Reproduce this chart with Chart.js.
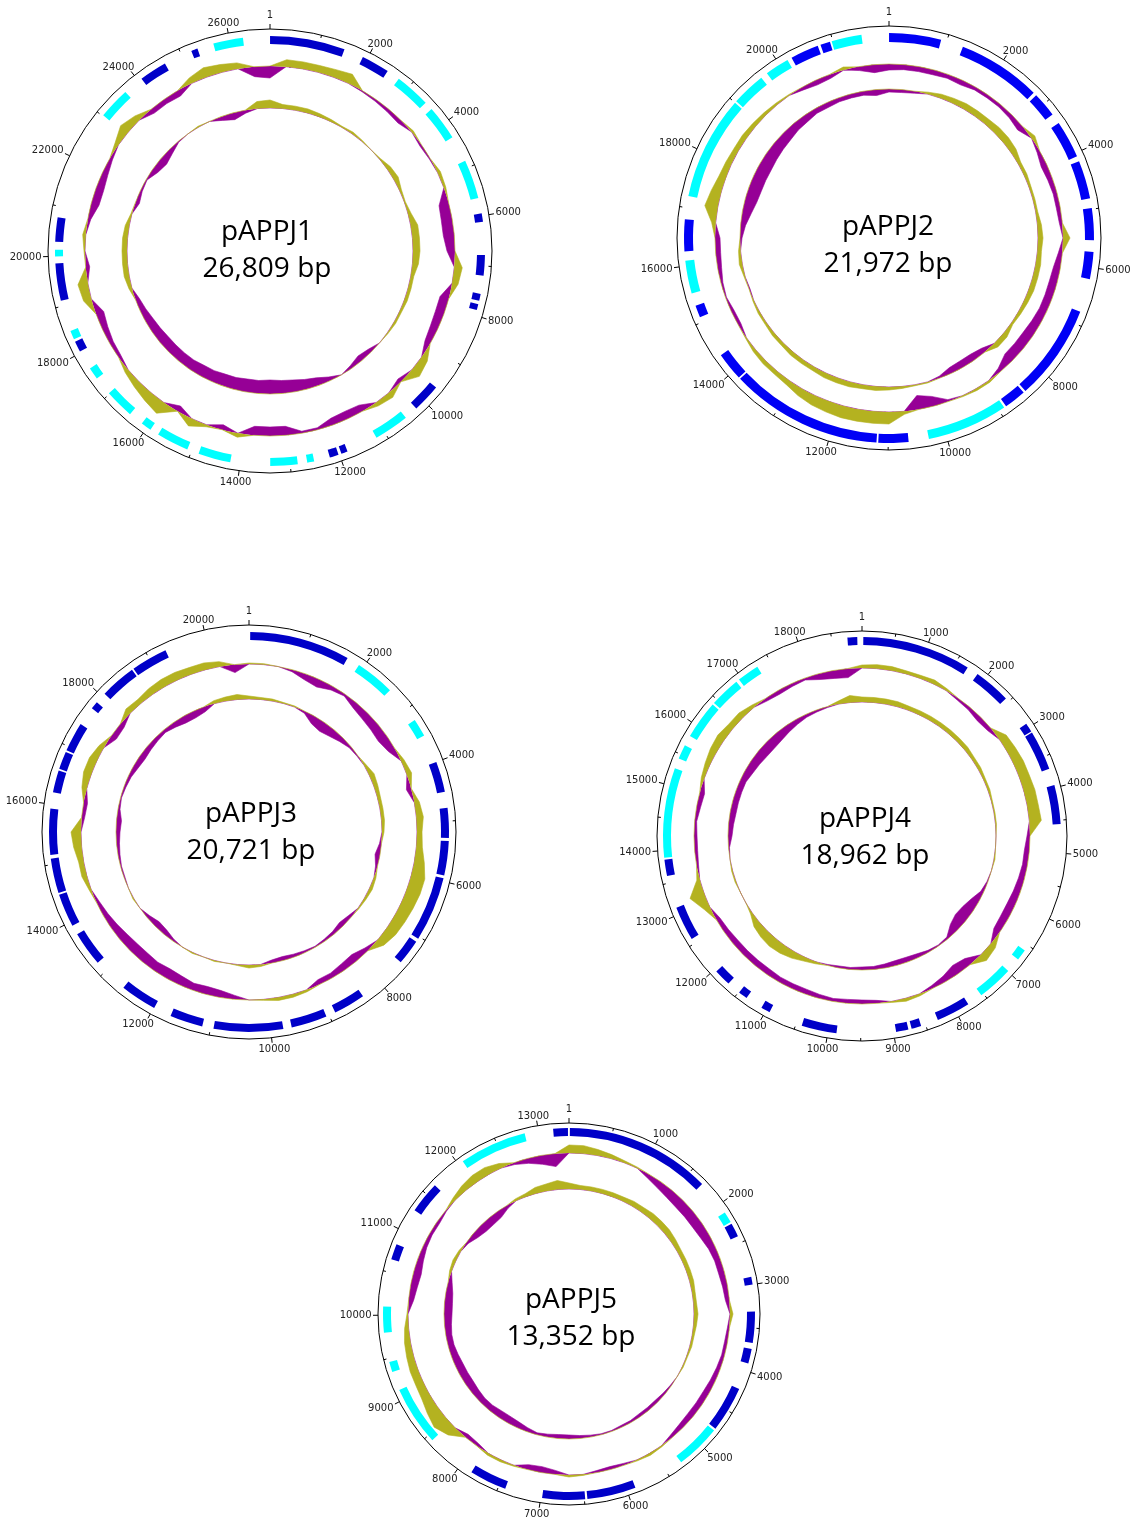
<!DOCTYPE html>
<html lang="en">
<head>
  <meta charset="UTF-8">
  <title>pAPPJ1-5 plasmid maps</title>
  <style>
    body { margin: 0; background: #fff; }
    #page { position: relative; width: 1134px; height: 1517px; overflow: hidden; background: #fff; }
    #page canvas { position: absolute; }
    .title {
      position: absolute;
      transform: translateX(-50%);
      font-family: 'Open Sans', sans-serif;
      font-size: 28px;
      line-height: 37px;
      color: #000;
      text-align: center;
      white-space: nowrap;
    }
  </style>
</head>
<body>
  <div id="page"></div>

  <script src="https://cdnjs.cloudflare.com/ajax/libs/Chart.js/4.4.1/chart.umd.js"></script>
  <script>
    // plasmid lengths (bp)
    const p1Length = 26809, p2Length = 21972, p3Length = 20721, p4Length = 18962, p5Length = 13352;

    // genes: [start, end, strand]  strand 1 = blue, -1 = cyan
    const p1Genes = [
      [1, 1510, 1], [1906, 2472, 1], [2741, 3455, -1], [3627, 4323, -1], [4855, 5637, -1],
      [5950, 6120, 1], [6784, 7195, 1], [7560, 7700, 1], [7770, 7890, 1], [9637, 10210, 1],
      [10486, 11193, -1], [11830, 11960, 1], [12020, 12200, 1], [12520, 12660, -1], [12850, 13400, -1],
      [14200, 14850, -1], [15090, 15740, -1], [15920, 16130, -1], [16430, 17020, -1], [17400, 17640, -1],
      [18030, 18250, 1], [18300, 18480, -1], [19110, 19860, 1], [20000, 20130, -1], [20290, 20780, 1],
      [23020, 23660, -1], [24075, 24630, 1], [25210, 25340, 1], [25670, 26270, -1]
    ];
    const p2Genes = [
      [1, 900, 1], [1290, 2740, 1], [2800, 3230, 1], [3410, 4060, 1], [4150, 4810, 1],
      [4980, 5530, 1], [5730, 6200, 1], [6780, 8440, 1], [8480, 8860, 1], [8900, 10300, -1],
      [10650, 11170, 1], [11200, 13830, 1], [13860, 14350, 1], [15090, 15300, 1], [15520, 16090, -1],
      [16250, 16800, 1], [17200, 19000, -1], [19030, 19620, -1], [19740, 20160, -1], [20240, 20730, 1],
      [20780, 20950, 1], [20980, 21500, -1]
    ];
    const p3Genes = [
      [20, 1700, 1], [1920, 2580, -1], [3220, 3520, -1], [4000, 4510, 1], [4780, 5280, 1],
      [5330, 5905, 1], [5950, 7035, 1], [7095, 7520, 1], [8360, 8890, 1], [9050, 9650, 1],
      [9790, 10950, 1], [11140, 11690, 1], [11990, 12600, 1], [13190, 13770, 1], [13930, 14490, 1],
      [14520, 15100, 1], [15160, 15930, 1], [16200, 16570, 1], [16600, 16900, 1], [16930, 17420, 1],
      [17740, 17870, 1], [18060, 18660, 1], [18690, 19300, 1]
    ];
    const p4Genes = [
      [20, 1690, 1], [1870, 2440, 1], [2930, 3070, 1], [3090, 3700, 1], [3960, 4560, 1],
      [6590, 6760, -1], [6990, 7540, -1], [7780, 8300, 1], [8570, 8720, 1], [8770, 8960, 1],
      [9870, 10410, 1], [10940, 11080, 1], [11350, 11490, 1], [11700, 11960, 1], [12580, 13110, 1],
      [13610, 13860, 1], [13890, 15270, -1], [15430, 15650, -1], [15810, 16400, -1], [16430, 16900, -1],
      [16950, 17290, -1], [18740, 18890, 1]
    ];
    const p5Genes = [
      [10, 1695, 1], [2110, 2240, -1], [2260, 2420, 1], [2910, 3000, 1], [3310, 3670, 1],
      [3740, 3910, 1], [4220, 4750, 1], [4775, 5300, -1], [5900, 6465, 1], [6490, 6985, 1],
      [7420, 7850, 1], [8430, 9120, -1], [9340, 9460, -1], [9800, 10100, -1], [10650, 10830, 1],
      [11270, 11640, 1], [12060, 12840, -1], [13170, 13340, 1]
    ];

    // labelled ticks (bp)
    const p1TickLabels = [1, 2000, 4000, 6000, 8000, 10000, 12000, 14000, 16000, 18000, 20000, 22000, 24000, 26000];
    const p2TickLabels = [1, 2000, 4000, 6000, 8000, 10000, 12000, 14000, 16000, 18000, 20000];
    const p3TickLabels = [1, 2000, 4000, 6000, 8000, 10000, 12000, 14000, 16000, 18000, 20000];
    const p4TickLabels = [1, 1000, 2000, 3000, 4000, 5000, 6000, 7000, 8000, 9000, 10000, 11000, 12000, 13000, 14000, 15000, 16000, 17000, 18000];
    const p5TickLabels = [1, 1000, 2000, 3000, 4000, 5000, 6000, 7000, 8000, 9000, 10000, 11000, 12000, 13000];

    // GC deviation, 72 windows (every 5 degrees, clockwise from position 1)
    const p1GcOuter = [-12,7,7,7,8,10,-1,-2,-3,-4,2,-2, -1,3,2,-10,-11,-11,-8,8,6,-9,-9,-8,
      -6,7,10,-4,6,4,-7,-8,-7,-2,-2,-9, -9,-9,4,-5,2,8,-6,13,10,7,4,-3,
      -4,-6,-8,8,10,-4,1,3,-3,-8,-8,-6, -3,4,10,6,-5,-5,-6,6,10,8,6,-10];
    const p1GcInner = [8,4,4,4,3,2,1,2,1,0,1,4, 5,2,1,3,7,7,7,6,3,3,3,2,
      2,1,0,-4,-6,-3,0,-4,-8,-10,-12,-13, -14,-13,-13,-12,-12,-11,-11,-10,-10,-10,-10,-9,
      -8,-6,-4,3,5,5,5,5,4,1,-4,-2, -1,-6,-8,-5,-1,0,1,0,-4,-7,-3,7];
    const p2GcOuter = [-6,-5,-5,-5,-4,-5,-3,-3,-3,-4,-6,4, -3,-6,-5,-4,-4,-3,7,-4,-7,-8,-8,-8,
      -9,-10,-10,-10,-4,2,2,1,-2,-10,-14,3, 12,12,12,12,11,10,8,5,4,4,3,1,
      -3,-3,-1,-2,-4,-5,-5,4,13,10,7,6, 5,5,4,3,2,1,-3,-5,-4,3,-4,-8];
    const p2GcInner = [-3,-3,-2,2,4,5,6,6,6,7,7,6, 3,3,2,2,2,4,5,4,5,5,5,4,
      3,2,5,5,-5,-7,-7,-6,-2,1,1,2, 3,4,4,5,5,5,4,4,4,3,3,2,
      2,1,-1,1,3,2,-2,-5,-9,-12,-13,-13, -13,-12,-11,-10,-8,-7,-5,-5,-4,-4,-4,-6];
    const p3GcOuter = [1,1,0,-2,-6,-8,-4,-2,-6,-8,-9,-10, -7,3,5,-5,5,7,5,6,10,14,14,13,
      12,11,8,-4,-8,-7,-5,-5,2,3,3,1, 0,-4,-7,-8,-7,-9,-10,-9,-10,-10,-9,-7,
      -5,-3,2,5,5,8,10,-3,-4,5,8,8, 5,-6,-5,6,5,7,8,8,7,7,5,-8];
    const p3GcInner = [3,2,2,1,1,-2,-8,-10,-8,-5,-2,-1, 2,5,4,3,3,3,2,-2,-5,-2,2,3,
      2,1,-3,-5,-3,-2,-1,-2,-3,-4,-3,2, 3,1,0,1,0,1,0,-2,-5,-6,-3,0,
      1,0,-1,-1,-2,-3,-4,-5,-2,-1,-2,-3, -5,-6,-5,-4,-3,-5,-7,-7,-5,3,4,5];
    const p4GcOuter = [3,4,4,3,3,4,2,-2,-3,-5,-4,8, 9,10,10,11,11,12,-3,-5,-5,-6,-7,-8,
      -8,-7,6,8,-8,-10,-6,-3,2,3,1,-3, -4,-4,-3,-4,-5,-5,-5,-6,-6,-6,-6,-5,
      -4,6,15,3,-2,-3,-3,-2,-4,-5,3,5, 7,8,6,6,3,-3,-4,-3,-2,-6,-8,-9];
    const p4GcInner = [5,5,5,5,4,4,4,4,4,4,4,3, 3,2,2,1,1,1,0,0,1,0,-1,-3,
      -8,-11,-12,-9,-2,-1,-2,-4,-5,-5,-4,-3, -3,-2,-2,-1,2,4,7,9,10,9,7,2,
      0,0,1,1,0,-1,-4,-5,-6,-6,-6,-6, -8,-9,-10,-10,-9,-7,-5,-3,-2,-1,3,7];
    const p5GcOuter = [8,8,6,4,2,1,-4,-7,-9,-10,-10,-10, -9,-7,-6,-6,-5,-4,3,-2,-3,-3,-4,-5,
      -6,-6,-6,-5,-3,1,2,1,-2,-3,-2,1, 2,-4,-6,-5,1,2,2,-3,-4,10,15,12,
      9,8,8,7,6,4,1,-5,-7,-8,-6,-4, -3,-3,-1,3,6,8,8,5,-2,-5,-9,-13];
    const p5GcInner = [6,4,4,4,4,4,5,5,6,6,6,5, 4,4,4,4,3,3,4,3,2,2,1,1,
      0,-1,-2,-3,-3,-3,-2,-2,-1,-1,-2,-3, -4,-4,-3,-2,-4,-6,-7,-7,-6,-6,-7,-8,
      -8,-8,-7,-6,-6,-7,-8,-8,-7,-4,2,3, 2,-2,-6,-8,-8,-7,-3,2,3,6,7,9];

    const CYAN = '#00ffff';
    const OLIVE = '#b4b220';
    const PURPLE = '#960096';

    // layout of each map on the page
    const maps = [
      { name: 'pAPPJ1', length: p1Length, genes: p1Genes, ticks: p1TickLabels, minor: 1000, outer: p1GcOuter, inner: p1GcInner,
        cx: 270, cy: 251, R: 222, ring: [207, 215], outerBase: 185, innerBase: 143, blue: '#0000c8', tx: 267, ty: 240 },
      { name: 'pAPPJ2', length: p2Length, genes: p2Genes, ticks: p2TickLabels, minor: 1000, outer: p2GcOuter, inner: p2GcInner,
        cx: 889, cy: 238, R: 212, ring: [196, 205], outerBase: 174, innerBase: 149, blue: '#0000f5', tx: 888, ty: 235 },
      { name: 'pAPPJ3', length: p3Length, genes: p3Genes, ticks: p3TickLabels, minor: 1000, outer: p3GcOuter, inner: p3GcInner,
        cx: 249, cy: 832, R: 207, ring: [192, 200], outerBase: 168, innerBase: 133, blue: '#0000c8', tx: 251, ty: 822 },
      { name: 'pAPPJ4', length: p4Length, genes: p4Genes, ticks: p4TickLabels, minor: 500, outer: p4GcOuter, inner: p4GcInner,
        cx: 862, cy: 836, R: 205, ring: [191, 199], outerBase: 168, innerBase: 134, blue: '#0000c8', tx: 865, ty: 827 },
      { name: 'pAPPJ5', length: p5Length, genes: p5Genes, ticks: p5TickLabels, minor: 500, outer: p5GcOuter, inner: p5GcInner,
        cx: 569, cy: 1314, R: 191, ring: [178, 186], outerBase: 161, innerBase: 125, blue: '#0000c8', tx: 571, ty: 1308 }
    ];

    const page = document.getElementById('page');

    function addCanvas(m) {
      const size = 2 * m.R + 120;
      const c = document.createElement('canvas');
      c.width = size;
      c.height = size;
      c.style.width = size + 'px';
      c.style.height = size + 'px';
      c.style.left = (m.cx - size / 2) + 'px';
      c.style.top = (m.cy - size / 2) + 'px';
      page.appendChild(c);
      return c;
    }

    // circle, tick marks and bp labels around the map
    function axisPlugin(m) {
      return {
        id: 'mapAxis',
        afterDraw(chart) {
          const ctx = chart.ctx;
          const a = chart.chartArea;
          const cx = (a.left + a.right) / 2, cy = (a.top + a.bottom) / 2;
          const R = m.R;
          const ang = bp => (bp === 1 ? 0 : bp / m.length) * Math.PI * 2;
          ctx.save();
          ctx.strokeStyle = '#000';
          ctx.lineWidth = 1;
          ctx.beginPath();
          ctx.arc(cx, cy, R, 0, Math.PI * 2);
          ctx.stroke();

          for (let bp = m.minor; bp < m.length; bp += m.minor) {
            if (m.ticks.includes(bp)) continue;
            const t = ang(bp), s = Math.sin(t), c = Math.cos(t);
            ctx.beginPath();
            ctx.moveTo(cx + R * s, cy - R * c);
            ctx.lineTo(cx + (R - 3) * s, cy - (R - 3) * c);
            ctx.stroke();
          }

          ctx.font = '10px "DejaVu Sans"';
          ctx.fillStyle = '#222';
          ctx.textAlign = 'center';
          ctx.textBaseline = 'middle';
          m.ticks.forEach(bp => {
            const t = ang(bp), s = Math.sin(t), c = Math.cos(t);
            const px = cx + (R + 5) * s, py = cy - (R + 5) * c;
            ctx.beginPath();
            ctx.moveTo(cx + R * s, cy - R * c);
            ctx.lineTo(px, py);
            ctx.stroke();
            const text = String(bp);
            const hw = ctx.measureText(text).width / 2;
            const ox = Math.sign(s) * hw * Math.min(1, 1.2 * Math.abs(s)) + 1.5 * s;
            let oy = (c > 0 ? -4.5 : 6.5) * Math.min(1, 1.5 * Math.abs(c));
            if (bp === 1) oy -= 4.5;
            ctx.fillText(text, px + ox, py + oy);
          });
          ctx.restore();
        }
      };
    }

    function geneRing(m) {
      const sorted = m.genes.slice().sort((x, y) => x[0] - y[0]);
      const sizes = [], colors = [];
      let pos = 0;
      sorted.forEach(([start, end, strand]) => {
        if (start > pos) { sizes.push(start - pos); colors.push('rgba(0,0,0,0)'); }
        sizes.push(end - start);
        colors.push(strand > 0 ? m.blue : CYAN);
        pos = end;
      });
      if (pos < m.length) { sizes.push(m.length - pos); colors.push('rgba(0,0,0,0)'); }

      return new Chart(addCanvas(m), {
        type: 'doughnut',
        data: {
          labels: sizes.map(() => ''),
          datasets: [{ data: sizes, backgroundColor: colors, borderWidth: 0 }]
        },
        options: {
          responsive: false,
          animation: false,
          events: [],
          radius: m.ring[1],
          cutout: (m.ring[0] / m.ring[1] * 100) + '%',
          plugins: { legend: { display: false }, tooltip: { enabled: false } }
        },
        plugins: [axisPlugin(m)]
      });
    }

    function gcTrack(m, values, base) {
      const canvas = addCanvas(m);
      const half = canvas.width / 2;
      return new Chart(canvas, {
        type: 'radar',
        data: {
          labels: values.map(() => ''),
          datasets: [
            { data: values.map(v => Math.max(v, 0)), fill: 'origin', backgroundColor: OLIVE, borderColor: OLIVE, borderWidth: 0.6 },
            { data: values.map(v => Math.min(v, 0)), fill: 'origin', backgroundColor: PURPLE, borderColor: PURPLE, borderWidth: 0.6 }
          ]
        },
        options: {
          responsive: false,
          animation: false,
          events: [],
          elements: { point: { radius: 0 }, line: { tension: 0 } },
          plugins: { legend: { display: false }, tooltip: { enabled: false } },
          scales: {
            r: {
              min: -base,
              max: half - base,
              ticks: { display: false },
              grid: { display: false, circular: true },
              angleLines: { display: false },
              pointLabels: { display: false }
            }
          }
        }
      });
    }

    maps.forEach(m => {
      gcTrack(m, m.outer, m.outerBase);
      gcTrack(m, m.inner, m.innerBase);
      geneRing(m);
    });

    maps.forEach(m => {
      const t = document.createElement('div');
      t.className = 'title';
      t.style.left = m.tx + 'px';
      t.style.top = (m.ty - 29.4) + 'px';
      t.innerHTML = m.name + '<br>' + m.length.toLocaleString('en-US') + ' bp';
      page.appendChild(t);
    });
  </script>
</body>
</html>
